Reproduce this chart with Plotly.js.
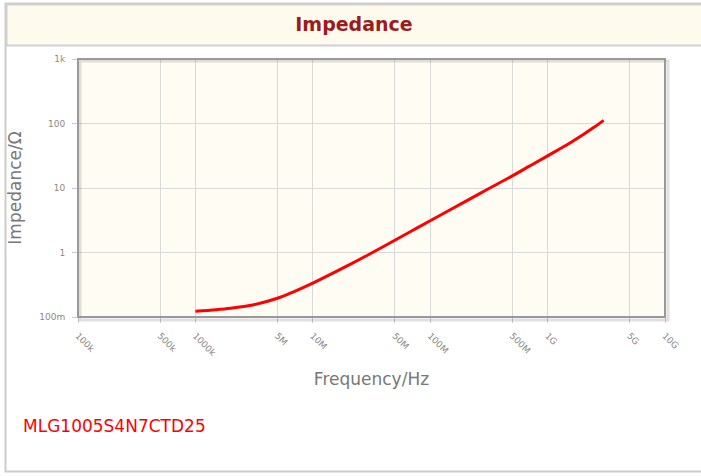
<!DOCTYPE html>
<html>
<head>
<meta charset="utf-8">
<script src="https://cdn.plot.ly/plotly-3.0.1.min.js"></script>
<style>html,body{margin:0;padding:0;background:#fff;}#chart{width:701px;height:476px;}</style>
</head>
<body>
<div id="chart"></div>
<script>
// Data
const frequencyHz = [1e6, 1.5e6, 2e6, 3e6, 5e6, 7e6, 1e7, 2e7, 3e7, 5e7, 7e7, 1e8, 2e8, 3e8, 5e8, 7e8, 1e9, 1.5e9, 2e9, 2.5e9, 3e9];
const impedanceOhm = [0.123, 0.13, 0.137, 0.152, 0.195, 0.25, 0.335, 0.63, 0.93, 1.55, 2.17, 3.1, 6.2, 9.3, 15.4, 21.8, 31.5, 48, 67, 88, 112];
const xTickVals = [1e5, 5e5, 1e6, 5e6, 1e7, 5e7, 1e8, 5e8, 1e9, 5e9, 1e10];
const xTickText = ["100k", "500k", "1000k", "5M", "10M", "50M", "100M", "500M", "1G", "5G", "10G"];
const yTickVals = [0.1, 1, 10, 100, 1000];
const yTickText = ["100m", "1", "10", "100", "1k"];
const chartTitle = "Impedance";
const partName = "MLG1005S4N7CTD25";

// pixel -> paper helpers (plot area 78..665 x 59..317)
const L = 78, R = 665, T = 59, B = 317;
const px = v => (v - L) / (R - L);
const py = v => (B - v) / (B - T);

const trace = {
  x: frequencyHz, y: impedanceOhm, type: 'scatter', mode: 'lines',
  line: {color: '#ff0000', width: 3, shape: 'spline', smoothing: 1},
  hoverinfo: 'x+y', showlegend: false
};

const layout = {
  width: 701, height: 476,
  margin: {l: L, r: 701 - R, t: T, b: 476 - B, pad: 0},
  paper_bgcolor: '#ffffff',
  plot_bgcolor: '#fffcf3',
  font: {family: 'DejaVu Sans, sans-serif', color: '#777777'},
  title: {
    text: '<b>' + chartTitle + '</b>',
    font: {family: 'DejaVu Sans, sans-serif', size: 19, color: '#9b1c1c'},
    xref: 'container', yref: 'container', x: 354 / 701, y: 1 - 24 / 476,
    xanchor: 'center', yanchor: 'middle'
  },
  xaxis: {
    type: 'log', range: [5, 10], tickmode: 'array', tickvals: xTickVals, ticktext: xTickText,
    tickangle: 45, tickfont: {size: 9, color: '#888888'},
    showgrid: true, gridcolor: '#d9d9d9', gridwidth: 1,
    ticks: 'outside', ticklen: 5, tickcolor: '#cccccc', ticklabelstandoff: 4,
    showline: false, zeroline: false,
    title: {text: 'Frequency/Hz', font: {size: 17, color: '#777777'}, standoff: 15}
  },
  yaxis: {
    type: 'log', range: [-1, 3], tickmode: 'array', tickvals: yTickVals, ticktext: yTickText,
    tickfont: {size: 9, color: '#888888'},
    showgrid: true, gridcolor: '#d9d9d9', gridwidth: 1,
    ticks: 'outside', ticklen: 5, tickcolor: '#cccccc', ticklabelstandoff: 5,
    showline: false, zeroline: false,
    title: {text: 'Impedance/Ω', font: {size: 17, color: '#777777'}, standoff: 13}
  },
  shapes: [
    // outer frame
    {type: 'rect', xref: 'paper', yref: 'paper', x0: px(5.5), x1: px(712), y0: py(471.5), y1: py(3.5),
     line: {color: '#cccccc', width: 2}, fillcolor: 'rgba(0,0,0,0)', layer: 'below'},
    // title band
    {type: 'rect', xref: 'paper', yref: 'paper', x0: px(6.5), x1: px(712), y0: py(45.5), y1: py(4.5),
     line: {color: '#d0d0d0', width: 2}, fillcolor: '#fffaee', layer: 'below'},
    // plot frame shadow
    {type: 'rect', xref: 'paper', yref: 'paper', x0: px(L + 2), x1: px(R + 3), y0: py(B + 3), y1: py(T + 2),
     line: {color: 'rgba(0,0,0,0.12)', width: 3}, fillcolor: 'rgba(0,0,0,0)', layer: 'above'},
    // plot frame
    {type: 'rect', xref: 'paper', yref: 'paper', x0: 0, x1: 1, y0: 0, y1: 1,
     line: {color: '#999999', width: 2}, fillcolor: 'rgba(0,0,0,0)', layer: 'above'}
  ],
  annotations: [
    {text: partName, xref: 'paper', yref: 'paper', x: px(21), y: py(426), xanchor: 'left', yanchor: 'middle',
     showarrow: false, font: {family: 'DejaVu Sans, sans-serif', size: 17, color: '#ff0000'}}
  ]
};

Plotly.newPlot('chart', [trace], layout, {displayModeBar: false, staticPlot: true});
</script>
</body>
</html>
